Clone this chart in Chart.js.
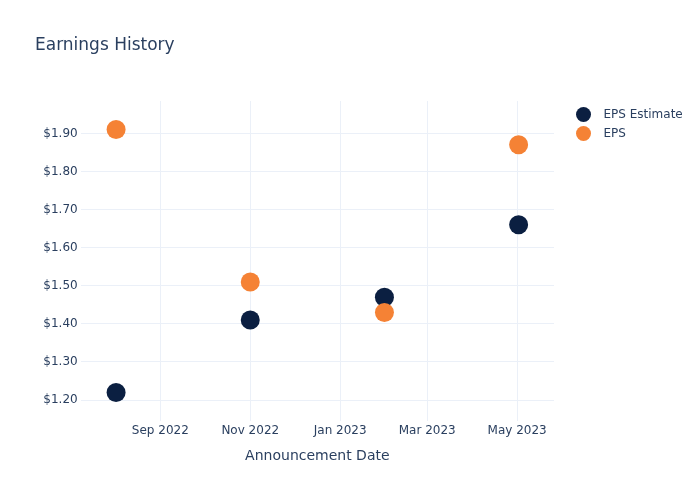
<!DOCTYPE html>
<html lang="en">
<head>
  <meta charset="UTF-8"/>
  <title>Earnings History</title>
  <script src="https://cdn.jsdelivr.net/npm/chart.js"></script>
  <style>
    body { margin: 0; background: white; }
    .wrap { width: 700px; height: 500px; position: relative; }
  </style>
</head>
<body>
<div class="wrap"><canvas id="epsChart"></canvas></div>

<script>
  // announcement dates and values
  const dates = ['2022-08-02', '2022-11-01', '2023-01-31', '2023-05-02'];
  const epsEstimate = [1.22, 1.41, 1.47, 1.66];
  const epsActual = [1.91, 1.51, 1.43, 1.87];

  const xTickDates = ['2022-09-01', '2022-11-01', '2023-01-01', '2023-03-01', '2023-05-01'];
  const xTickLabels = ['Sep 2022', 'Nov 2022', 'Jan 2023', 'Mar 2023', 'May 2023'];
  const yTicks = [1.2, 1.3, 1.4, 1.5, 1.6, 1.7, 1.8, 1.9];

  const xMin = '2022-07-09';
  const xMax = '2023-05-26';

  const ms = d => Date.parse(d + 'T00:00:00Z');
  const textColor = '#2a3f5f';
  const gridColor = '#ebf0f8';
  const font = 'DejaVu Sans';

  const toPoints = vals => vals.map((v, i) => ({ x: ms(dates[i]), y: v }));

  // legend drawn by hand so the plot area stays where plotly put it
  const sideLegend = {
    id: 'sideLegend',
    afterDraw(chart) {
      const ctx = chart.ctx;
      ctx.save();
      ctx.font = '12px "' + font + '"';
      ctx.textBaseline = 'middle';
      [chart.data.datasets[0], chart.data.datasets[1]].forEach((ds, i) => {
        const y = 114.5 + i * 19;
        ctx.fillStyle = ds.backgroundColor;
        ctx.beginPath();
        ctx.arc(583.5, y, 7.5, 0, Math.PI * 2);
        ctx.fill();
        ctx.fillStyle = textColor;
        ctx.fillText(ds.label, 603.5, y);
      });
      ctx.restore();
    }
  };

  new Chart(document.getElementById('epsChart'), {
    type: 'scatter',
    data: {
      datasets: [
        {
          label: 'EPS Estimate',
          data: toPoints(epsEstimate),
          backgroundColor: '#0b1f41',
          borderWidth: 0,
          pointRadius: 9.5,
          order: 1
        },
        {
          label: 'EPS',
          data: toPoints(epsActual),
          backgroundColor: '#f58235',
          borderWidth: 0,
          pointRadius: 9.5,
          order: 0
        }
      ]
    },
    options: {
      responsive: true,
      maintainAspectRatio: false,
      animation: false,
      layout: { padding: { left: 35, right: 146, top: 0, bottom: 0 } },
      plugins: {
        legend: { display: false },
        tooltip: { enabled: false },
        title: {
          display: true,
          text: 'Earnings History',
          align: 'start',
          color: textColor,
          font: { family: font, size: 17, weight: 'normal' },
          padding: { top: 35, bottom: 45.6 }
        }
      },
      scales: {
        x: {
          type: 'linear',
          min: ms(xMin),
          max: ms(xMax),
          afterBuildTicks: s => { s.ticks = xTickDates.map(d => ({ value: ms(d) })); },
          afterFit: s => { s.height = 79; },
          ticks: {
            color: textColor,
            font: { family: font, size: 12 },
            padding: 3,
            maxRotation: 0,
            autoSkip: false,
            callback: (v, i) => xTickLabels[i]
          },
          grid: { color: gridColor, drawTicks: false },
          border: { display: false },
          title: {
            display: true,
            text: 'Announcement Date',
            color: textColor,
            font: { family: font, size: 14 },
            padding: { top: 4, bottom: 35 }
          }
        },
        y: {
          type: 'linear',
          min: 1.145,
          max: 1.985,
          afterBuildTicks: s => { s.ticks = yTicks.map(v => ({ value: v })); },
          afterFit: s => { s.width = 45.7; },
          ticks: {
            color: textColor,
            font: { family: font, size: 12 },
            padding: 3,
            callback: v => '$' + v.toFixed(2)
          },
          grid: { color: gridColor, drawTicks: false },
          border: { display: false }
        }
      }
    },
    plugins: [sideLegend]
  });
</script>
</body>
</html>
